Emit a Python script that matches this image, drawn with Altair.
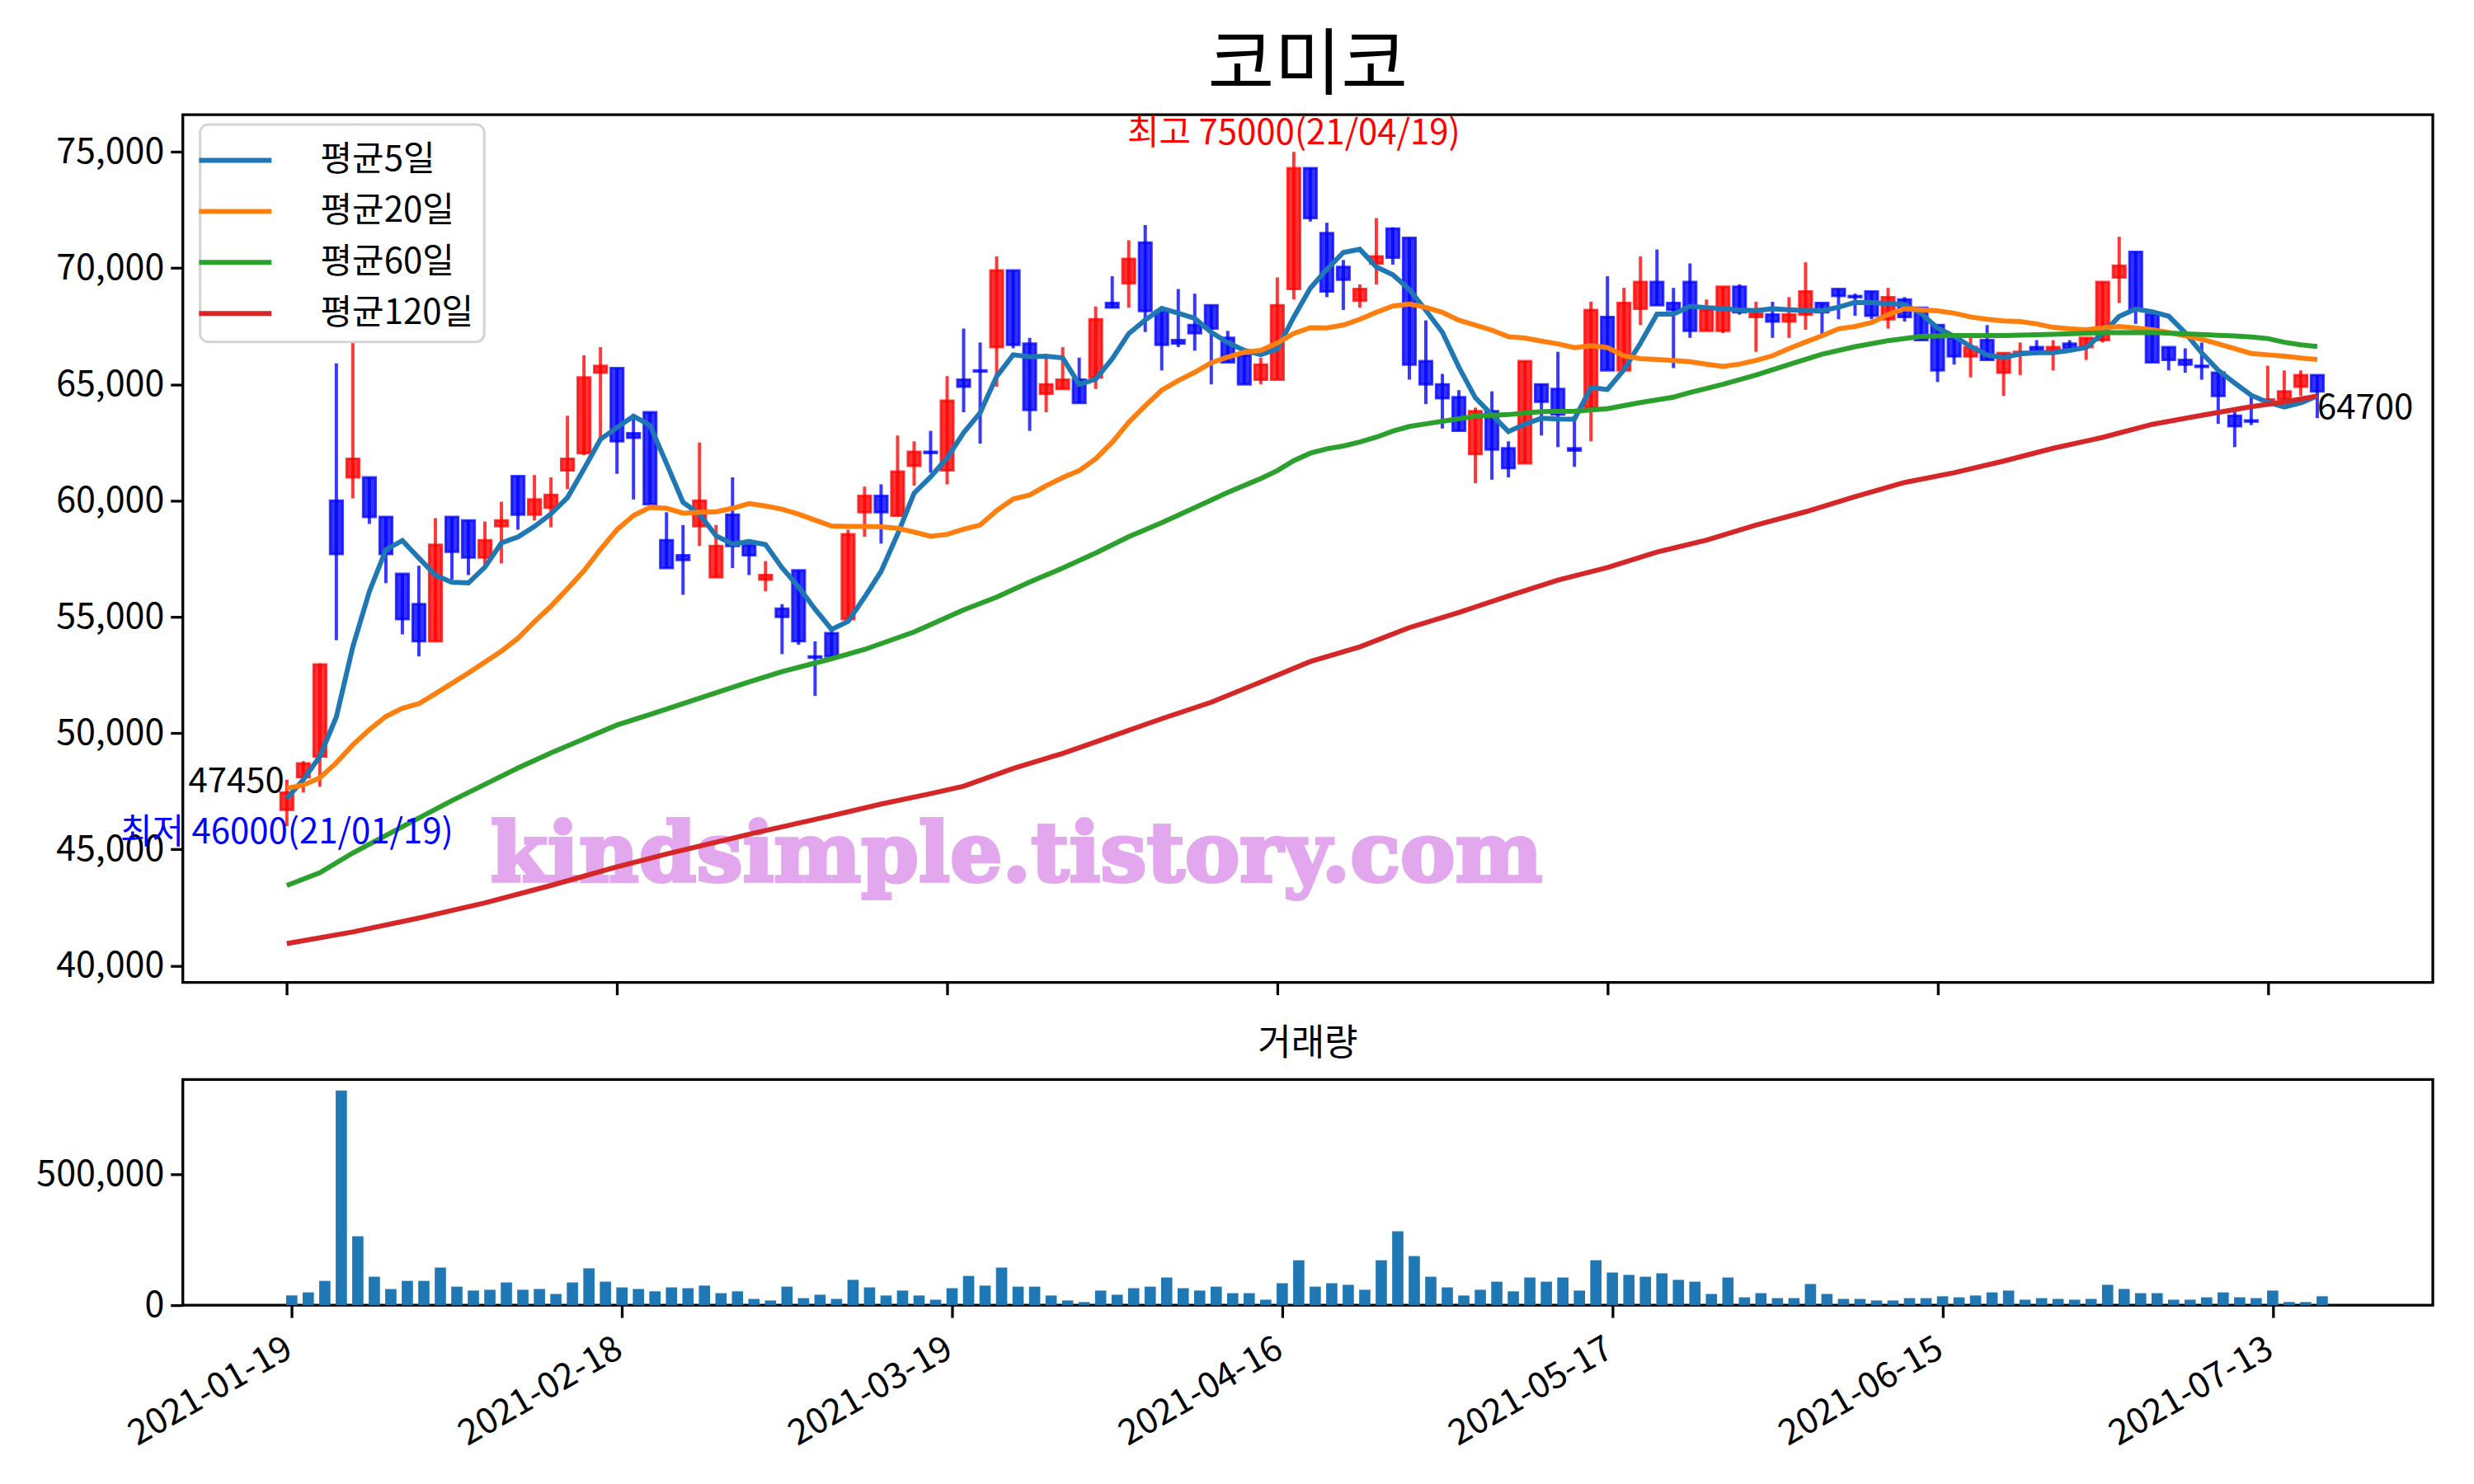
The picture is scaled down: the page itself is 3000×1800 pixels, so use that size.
import altair as alt
import pandas as pd

TITLE = "코미코"
VOLUME_TITLE = "거래량"
FONT = "Noto Sans CJK KR"
TICK_POS = [0, 20, 40, 60, 80, 100, 120]
TICK_LABELS = ["2021-01-19", "2021-02-18", "2021-03-19", "2021-04-16",
               "2021-05-17", "2021-06-15", "2021-07-13"]
PRICE_TICKS = [40000, 45000, 50000, 55000, 60000, 65000, 70000, 75000]
VOLUME_TICKS = [0, 500000]

OPEN = [46700, 48100, 49000, 60000, 61000, 61000, 59300, 56850, 55550, 53950,
        59300, 59150, 57550, 58900, 61050, 59400, 59700, 61300, 62050, 65500,
        65700, 62900, 63800, 58300, 57650, 58900, 56700, 59400, 58080, 56600,
        55350, 57000, 53300, 54300, 54900, 59500, 60200, 59350, 61500, 62100,
        61300, 65200, 65600, 66600, 69900, 66750, 64600, 64800, 65200, 65300,
        68500, 69350, 71100, 68150, 66900, 67550, 68400, 67000, 66250, 65200,
        65200, 69100, 74300, 71500, 70050, 68600, 70200, 71700, 71300, 66000,
        65000, 64450, 62000, 63850, 62250, 61600, 65000, 64800, 62250, 64000,
        67900, 65600, 68250, 69400, 68500, 69400, 67300, 67300, 69200, 67900,
        68000, 67700, 68000, 68500, 69100, 68800, 69000, 67800, 68650, 68300,
        67550, 67000, 66200, 66900, 65500, 66350, 66600, 66450, 66750, 66600,
        66900, 69600, 70700, 68000, 66600, 66050, 65800, 65500, 63650, 63450,
        64300, 64350, 64900, 65400]
HIGH = [48000, 48800, 53000, 65900, 66900, 61000, 59300, 56850, 57200, 59250,
        59300, 59150, 59100, 59950, 61050, 61100, 61000, 63650, 66250, 66600,
        65700, 63500, 63800, 59500, 58950, 62500, 58950, 61000, 58080, 57400,
        55550, 57000, 53950, 54400, 58750, 60600, 60700, 62800, 62550, 63000,
        65350, 67400, 66800, 70500, 69900, 67000, 66150, 66600, 66150, 68350,
        69650, 71200, 71850, 68150, 69100, 68900, 68400, 67300, 66250, 66150,
        69600, 75000, 74300, 71950, 70350, 69300, 72150, 71750, 71300, 67750,
        65450, 64750, 64000, 64700, 62550, 66000, 65000, 66400, 63650, 68550,
        69650, 69150, 70500, 70800, 69150, 70200, 68650, 69200, 69300, 68550,
        68550, 68750, 70250, 68500, 69100, 68900, 69000, 69150, 68750, 68300,
        67550, 67000, 67000, 67550, 66350, 66800, 66900, 66900, 66900, 67000,
        69400, 71350, 70700, 68000, 66600, 66550, 66800, 65500, 63950, 64500,
        65800, 65600, 65600, 65400]
LOW = [46000, 47450, 47700, 54000, 60100, 59000, 56450, 54250, 53300, 53950,
       56600, 56800, 57250, 57300, 58750, 59150, 58850, 60500, 61950, 62700,
       61150, 60050, 59850, 57100, 55950, 58050, 56700, 57100, 56800, 56100,
       53400, 53800, 51600, 53300, 54900, 58450, 58150, 59350, 60650, 61200,
       60700, 63800, 62450, 64900, 66550, 63000, 63800, 64800, 64200, 64800,
       68300, 68300, 67250, 65600, 66600, 66450, 65000, 65950, 65000, 65000,
       65200, 68650, 72000, 68750, 68200, 68300, 69300, 70150, 65200, 64150,
       63100, 63000, 60750, 60900, 61000, 61600, 62800, 62300, 61450, 62550,
       65600, 65600, 67550, 68400, 65700, 67000, 67300, 67200, 68000, 66400,
       67000, 67000, 67350, 67100, 67800, 67950, 67800, 67400, 67700, 66900,
       65100, 65850, 65300, 66050, 64500, 65400, 66250, 65600, 66550, 66050,
       66800, 68500, 67600, 65950, 65600, 65500, 65200, 63300, 62300, 63250,
       64300, 64150, 64500, 63550]
CLOSE = [47450, 48700, 52950, 57700, 61800, 59300, 57700, 54900, 53950, 58100,
         57800, 57550, 58300, 59150, 59400, 60050, 60250, 61800, 65300, 65800,
         62550, 62700, 59850, 57100, 57450, 60000, 58050, 58050, 57650, 56800,
         55000, 53950, 53250, 53300, 58550, 60200, 59500, 61250, 62100, 62050,
         64300, 64900, 65550, 69900, 66700, 63900, 65000, 65200, 64200, 67800,
         68300, 70400, 68150, 66700, 66750, 67200, 67400, 65950, 65000, 65850,
         68400, 74300, 72150, 69000, 69500, 69100, 70500, 70450, 65850, 65000,
         64400, 63000, 63850, 62200, 61400, 66000, 64250, 63700, 62150, 68200,
         65600, 68500, 69400, 68400, 68200, 67300, 68200, 69200, 68100, 68050,
         67700, 68000, 69000, 68100, 68800, 68750, 67950, 68750, 67900, 66900,
         65600, 66200, 66600, 66050, 66350, 66400, 66450, 66600, 66550, 67000,
         69400, 70100, 68200, 65950, 66050, 65850, 65750, 64500, 63200, 63400,
         64350, 64700, 65400, 64700]
VOLUME = [37000, 49000, 93000, 822000, 264000, 109000, 62000, 93000, 93000, 144000,
          71000, 56000, 59000, 87000, 59000, 62000, 43000, 87000, 141000, 90000,
          68000, 62000, 53000, 68000, 65000, 75000, 46000, 53000, 24000, 18000,
          71000, 27000, 40000, 24000, 97000, 68000, 37000, 56000, 37000, 21000,
          65000, 112000, 75000, 144000, 71000, 71000, 37000, 18000, 12000, 56000,
          40000, 65000, 71000, 106000, 65000, 56000, 71000, 46000, 46000, 21000,
          84000, 172000, 71000, 84000, 78000, 59000, 172000, 283000, 188000, 109000,
          68000, 37000, 59000, 90000, 53000, 106000, 90000, 106000, 56000, 172000,
          125000, 116000, 109000, 122000, 97000, 90000, 43000, 106000, 30000, 46000,
          27000, 27000, 81000, 43000, 24000, 24000, 18000, 18000, 27000, 27000,
          34000, 30000, 37000, 49000, 56000, 21000, 27000, 24000, 21000, 24000,
          78000, 62000, 46000, 46000, 21000, 21000, 30000, 49000, 30000, 27000,
          56000, 12000, 12000, 34000]
MA5 = [47200, 48000, 49000, 50700, 53720, 56090, 57890, 58280, 57530, 56790,
       56490, 56460, 57140, 58180, 58440, 58890, 59430, 60130, 61360, 62640,
       63140, 63630, 63240, 61600, 59930, 59420, 58490, 58130, 58240, 58110,
       57110, 56290, 55330, 54460, 54810, 55850, 56960, 58560, 60320, 61020,
       61840, 62920, 63780, 65340, 66270, 66190, 66210, 66140, 65000, 65220,
       66100, 67180, 67770, 68270, 68060, 67840, 67240, 66800, 66460, 66280,
       66520, 67900, 69140, 69940, 70670, 70810, 70050, 69710, 69080, 68180,
       67240, 65740, 64420, 63690, 62970, 63290, 63540, 63510, 63500, 64860,
       64780, 65630, 66770, 68020, 68020, 68360, 68300, 68260, 68200, 68170,
       68250, 68210, 68170, 68170, 68320, 68530, 68520, 68470, 68430, 68050,
       67420, 67070, 66630, 66260, 66150, 66310, 66360, 66360, 66460, 66590,
       67190, 67920, 68240, 68120, 67930, 67220, 66350, 65610, 65060, 64530,
       64230, 64030, 64200, 64500]
MA20 = [47630, 47770, 48080, 48730, 49500, 50150, 50720, 51070, 51270, 51700,
        52140, 52590, 53060, 53530, 54080, 54790, 55460, 56210, 56980, 57900,
        58750, 59360, 59710, 59670, 59460, 59500, 59520, 59670, 59870, 59770,
        59630, 59420, 59160, 58910, 58890, 58890, 58870, 58810, 58650, 58470,
        58550, 58770, 58950, 59570, 60070, 60240, 60640, 60990, 61290, 61800,
        62510, 63370, 64080, 64750, 65160, 65520, 65930, 66170, 66380, 66460,
        66780, 67190, 67440, 67430, 67550, 67800, 68100, 68370, 68450, 68310,
        68100, 67760, 67550, 67330, 67050, 66990, 66860, 66740, 66580, 66660,
        66580, 66230, 66110, 66070, 66030, 65970, 65870, 65770, 65870, 66030,
        66230, 66540, 66820, 67090, 67390, 67490, 67660, 68000, 68250, 68210,
        68160, 68060, 67900, 67800, 67730, 67700, 67600, 67450, 67390, 67350,
        67430, 67490, 67430, 67350, 67230, 67090, 66940, 66740, 66540, 66330,
        66270, 66210, 66130, 66070]
MA60_IDX = [0, 2, 4, 6, 8, 10, 12, 14, 16, 18, 20, 22, 25, 28, 30, 33, 35, 38,
            41, 43, 45, 47, 49, 51, 53, 55, 57, 59, 60, 61, 62, 63, 64, 65, 66,
            67, 68, 69, 70, 72, 74, 76, 78, 80, 82, 84, 85, 87, 89, 91, 93, 95,
            97, 99, 101, 104, 107, 110, 113, 116, 117, 118, 119, 120, 121, 122, 123]
MA60_VAL = [43450, 44000, 44850, 45600, 46350, 47100, 47800, 48500, 49150, 49750,
            50350, 50800, 51500, 52200, 52650, 53200, 53600, 54350, 55300, 55850,
            56500, 57100, 57750, 58450, 59050, 59700, 60350, 60950, 61290, 61720,
            62040, 62230, 62350, 62520, 62730, 62990, 63190, 63300, 63410, 63630,
            63700, 63830, 63850, 63950, 64220, 64450, 64650, 65000, 65400, 65850,
            66300, 66620, 66880, 67060, 67100, 67100, 67150, 67220, 67230, 67140,
            67110, 67080, 67040, 66970, 66810, 66700, 66630]
MA120_IDX = [0, 4, 8, 12, 16, 20, 23, 28, 33, 36, 39, 41, 44, 47, 50, 53, 56,
             59, 62, 65, 68, 71, 74, 77, 80, 83, 86, 89, 92, 95, 98, 101, 104,
             107, 110, 113, 116, 119, 121, 123]
MA120_VAL = [40950, 41450, 42050, 42700, 43450, 44250, 44800, 45650, 46450, 46950,
             47400, 47720, 48480, 49130, 49870, 50620, 51330, 52200, 53080, 53710,
             54540, 55190, 55900, 56580, 57120, 57790, 58300, 58950, 59520, 60170,
             60780, 61200, 61700, 62250, 62720, 63280, 63670, 64040, 64240, 64500]

SERIES = ["평균5일", "평균20일", "평균60일", "평균120일"]
SERIES_COLORS = ["#1f77b4", "#ff7f0e", "#2ca02c", "#d62728"]
UP_COLOR = "#ff0000"
DOWN_COLOR = "#0000ff"
WATERMARK = "kindsimple.tistory.com"
WATERMARK_AT = (44.2, 44700)

N = len(CLOSE)
idx = list(range(N))
candles = pd.DataFrame({"i": idx, "open": OPEN, "high": HIGH, "low": LOW,
                        "close": CLOSE, "volume": VOLUME})

ma_rows = []
for i, v in zip(idx, MA5):
    ma_rows.append({"i": i, "value": v, "series": SERIES[0]})
for i, v in zip(idx, MA20):
    ma_rows.append({"i": i, "value": v, "series": SERIES[1]})
for i, v in zip(MA60_IDX, MA60_VAL):
    ma_rows.append({"i": i, "value": v, "series": SERIES[2]})
for i, v in zip(MA120_IDX, MA120_VAL):
    ma_rows.append({"i": i, "value": v, "series": SERIES[3]})
ma = pd.DataFrame(ma_rows)

hi_i = HIGH.index(max(HIGH))
lo_i = LOW.index(min(LOW))
ann_hi = pd.DataFrame({"i": [hi_i], "p": [max(HIGH)],
                       "t": [f"최고 {max(HIGH)}(21/04/19)"]})
ann_lo = pd.DataFrame({"i": [lo_i], "p": [min(LOW)],
                       "t": [f"최저 {min(LOW)}(21/01/19)"]})
ann_first = pd.DataFrame({"i": [0], "p": [CLOSE[0]], "t": [str(CLOSE[0])]})
ann_last = pd.DataFrame({"i": [N - 1], "p": [CLOSE[-1]], "t": [str(CLOSE[-1])]})
wm = pd.DataFrame({"i": [WATERMARK_AT[0]], "p": [WATERMARK_AT[1]], "t": [WATERMARK]})

XDOM = [-6.3, 130.0]
XDOM_VOL = [-6.6, 129.7]
label_expr = "[" + ",".join(f"'{t}'" for t in TICK_LABELS) + "][round(datum.value/20)]"

x_main_axis = alt.Axis(values=TICK_POS, labels=False, ticks=True, title=None)
y_main_axis = alt.Axis(values=PRICE_TICKS, format=",d", title=None,
                       minExtent=212, maxExtent=212)
xs = alt.Scale(domain=XDOM, nice=False, zero=False)
ys = alt.Scale(domain=[39280, 76600], nice=False, zero=False)

updown = alt.condition("datum.close >= datum.open", alt.value(UP_COLOR), alt.value(DOWN_COLOR))

base = alt.Chart(candles)
wick = base.mark_rule(strokeWidth=4, opacity=0.78).encode(
    x=alt.X("i:Q", scale=xs, axis=x_main_axis),
    y=alt.Y("low:Q", scale=ys, axis=y_main_axis),
    y2="high:Q",
    color=updown,
)
body = base.transform_calculate(
    xl="datum.i - 0.38", xr="datum.i + 0.38"
).mark_rect(strokeWidth=3, fillOpacity=0.8, strokeOpacity=0.75).encode(
    x=alt.X("xl:Q", scale=xs, axis=x_main_axis),
    x2="xr:Q",
    y=alt.Y("open:Q", scale=ys, axis=y_main_axis),
    y2="close:Q",
    fill=updown,
    stroke=updown,
)
lines = alt.Chart(ma).mark_line(strokeWidth=6).encode(
    x=alt.X("i:Q", scale=xs, axis=x_main_axis),
    y=alt.Y("value:Q", scale=ys, axis=y_main_axis),
    color=alt.Color("series:N", sort=SERIES,
                    scale=alt.Scale(domain=SERIES, range=SERIES_COLORS),
                    legend=alt.Legend(title=None, orient="none", legendX=21, legendY=12,
                                      symbolType="M-1.63,0H1.57", symbolSize=3025,
                                      symbolStrokeWidth=6, labelFontSize=42,
                                      labelFont=FONT, labelColor="black", labelLimit=500,
                                      labelOffset=72, padding=13, rowPadding=10,
                                      fillColor="white", strokeColor="#d4d4d4",
                                      cornerRadius=10)),
    order=alt.value(0),
)


def txt(df, color, align, baseline, dx=0, dy=0, size=42, font=FONT, **kw):
    return alt.Chart(df).mark_text(color=color, align=align, baseline=baseline,
                                   dx=dx, dy=dy, fontSize=size, font=font, **kw).encode(
        x=alt.X("i:Q", scale=xs, axis=x_main_axis),
        y=alt.Y("p:Q", scale=ys, axis=y_main_axis),
        text="t:N",
    )


watermark = txt(wm, "#e3a7ee", "center", "middle", size=100, font="DejaVu Serif",
                fontWeight="bold", stroke="#e3a7ee", strokeWidth=4)
t_hi = txt(ann_hi, "red", "center", "bottom")
t_lo = txt(ann_lo, "blue", "center", "middle", dy=8)
t_first = txt(ann_first, "black", "right", "alphabetic", dx=-3)
t_last = txt(ann_last, "black", "left", "top")

main = alt.layer(watermark, wick, body, lines, t_hi, t_lo, t_first, t_last).properties(
    width=2732, height=1054,
    title=alt.TitleParams(TITLE, fontSize=88, font=FONT, fontWeight="normal",
                          color="black", offset=14, anchor="middle", frame="group"),
)

vol = alt.Chart(candles).transform_calculate(
    xl="datum.i - 0.34", xr="datum.i + 0.34"
).mark_rect(color="#1f77b4").encode(
    x=alt.X("xl:Q", scale=alt.Scale(domain=XDOM_VOL, nice=False, zero=False),
            axis=alt.Axis(values=TICK_POS, labelExpr=label_expr, labelAngle=330,
                          labelAlign="right", labelBaseline="top", labelOffset=-14,
                          labelPadding=16, title=None)),
    x2="xr:Q",
    y=alt.Y("volume:Q", scale=alt.Scale(domain=[0, 864000], nice=False),
            axis=alt.Axis(values=VOLUME_TICKS, format=",d", title=None,
                          minExtent=212, maxExtent=212)),
    y2=alt.datum(0),
).properties(
    width=2732, height=274,
    title=alt.TitleParams(VOLUME_TITLE, fontSize=44, font=FONT, fontWeight="normal",
                          color="black", offset=20, anchor="middle", frame="group"),
)

chart = alt.vconcat(main, vol, spacing=33).properties(
    padding={"left": 0, "top": 26, "right": 40, "bottom": 40},
).configure_view(
    stroke="black", strokeWidth=3.3,
).configure_axis(
    labelFont=FONT, labelFontSize=43, labelColor="black", labelLimit=600,
    tickColor="black", tickWidth=3.3, tickSize=15, labelPadding=8,
    domain=False, grid=False,
).configure_legend(
    strokeWidth=3,
)

chart.save("out.html", embed_options={"renderer": "svg", "actions": False})
